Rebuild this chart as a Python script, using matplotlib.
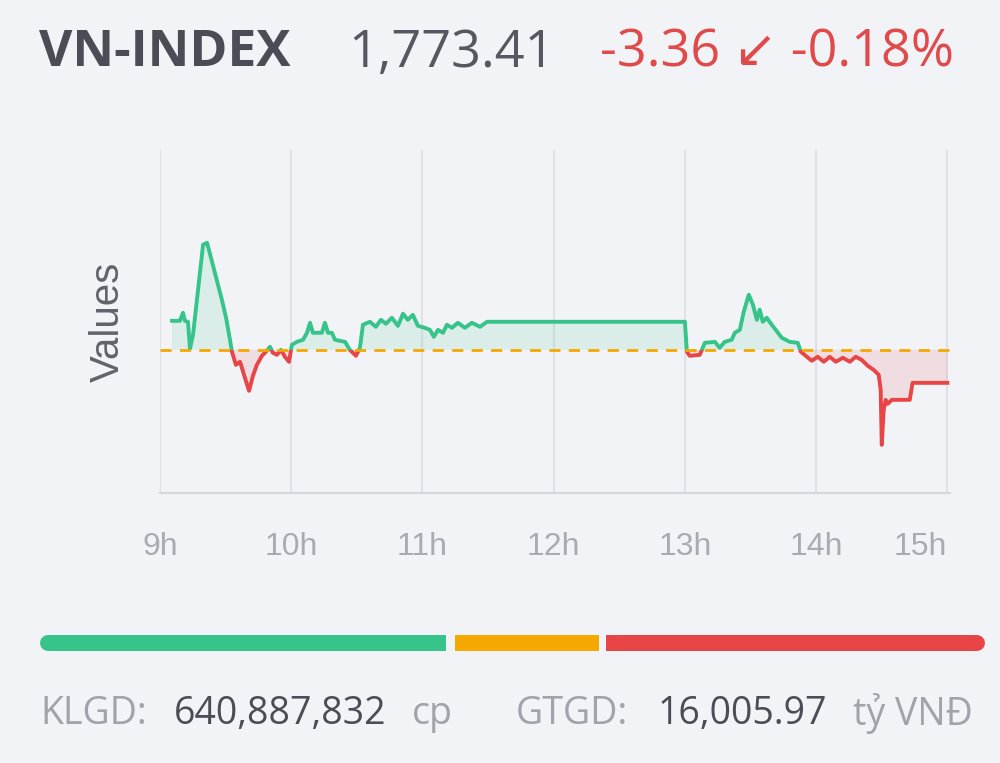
import matplotlib.pyplot as plt
from matplotlib.patches import Rectangle
import numpy as np

# intraday VN-INDEX, minutes after 9:00 and index level
minutes = [5.5, 9.1, 10.5, 11.4, 12.8, 13.7, 15.1, 17.4, 19.7, 21.5, 23.8, 26.5, 28.3, 30.2,
           32.0, 32.9, 34.7, 36.6, 38.4, 40.7, 42.5, 44.3, 46.6, 48.4, 50.3, 51.6, 53.5, 55.3,
           57.1, 59.0, 60.3, 62.6, 65.4, 67.2, 68.6, 69.9, 74.0, 75.4, 76.8, 78.6, 80.0, 84.6,
           86.8, 89.6, 91.4, 92.8, 96.0, 98.7, 101.0, 103.3, 106.0, 108.8, 111.1, 113.3, 115.6,
           117.9, 121.1, 123.4, 125.2, 127.1, 129.4, 131.2, 133.5, 136.2, 139.4, 142.6, 146.3,
           149.5, 240.0, 240.9, 242.2, 246.8, 249.1, 253.7, 255.9, 258.2, 261.4, 262.8, 265.1,
           266.9, 269.2, 271.1, 272.9, 274.2, 275.6, 277.4, 279.7, 281.5, 284.3, 287.9, 291.6,
           293.0, 295.2, 298.0, 300.7, 303.5, 306.2, 309.0, 312.2, 315.4, 318.1, 320.8, 323.6,
           326.3, 328.6, 329.5, 330.0, 330.9, 331.8, 332.7, 334.6, 342.8, 344.1, 360.0]
index = [1779.72, 1779.72, 1780.54, 1779.72, 1779.62, 1776.87, 1778.30, 1782.88, 1787.46,
         1787.66, 1785.73, 1783.39, 1781.86, 1780.03, 1777.79, 1776.57, 1775.24, 1775.55,
         1774.23, 1772.60, 1774.12, 1775.24, 1776.16, 1776.57, 1777.08, 1776.46, 1776.26,
         1776.77, 1776.06, 1775.55, 1777.28, 1777.58, 1777.79, 1778.50, 1779.52, 1778.50,
         1778.50, 1779.52, 1778.50, 1778.50, 1777.79, 1777.58, 1776.77, 1776.16, 1776.97,
         1779.32, 1779.62, 1779.11, 1779.82, 1779.42, 1780.03, 1779.21, 1780.44, 1779.82,
         1780.33, 1779.21, 1779.01, 1778.80, 1778.09, 1778.80, 1778.50, 1779.32, 1779.01,
         1779.52, 1779.01, 1779.52, 1779.11, 1779.62, 1779.62, 1776.57, 1776.16, 1776.26,
         1777.48, 1777.58, 1776.97, 1777.58, 1777.79, 1778.50, 1778.80, 1780.64, 1782.37,
         1781.35, 1779.82, 1780.85, 1779.62, 1780.03, 1779.32, 1778.80, 1777.99, 1777.58,
         1777.48, 1776.57, 1776.16, 1775.65, 1776.06, 1775.55, 1776.06, 1775.55, 1775.96,
         1775.55, 1776.06, 1775.75, 1775.14, 1774.73, 1774.23, 1772.70, 1767.10, 1770.66,
         1771.68, 1771.27, 1771.68, 1771.68, 1773.41, 1773.41]
ref_close = 1776.77
hours = [9, 10, 11, 12, 13, 14, 15]
hour_labels = ["9h", "10h", "11h", "12h", "13h", "14h", "15h"]

last = "1,773.41"
change = "-3.36 \u2199 -0.18%"
breadth = [43.6, 15.9, 40.5]
volume = "640,887,832"
value = "16,005.97"

BG = "#f2f3f7"
GREEN = "#36c48a"
RED = "#e84646"
ORANGE = "#f5a800"

plt.rcParams['font.family'] = ['Open Sans', 'DejaVu Sans']

fig = plt.figure(figsize=(10, 7.63), dpi=100, facecolor=BG)

def fx(px):
    return px / 1000

def fy(py):
    return 1 - py / 763

# header
fig.text(fx(39), fy(53), "VN-INDEX", fontsize=37, fontweight='bold', color="#4a4d55", va='center')
fig.text(fx(348), fy(53), last, fontsize=37.5, color="#555860", va='center')
fig.text(fx(600), fy(53), change, fontsize=37.5, color="#e04a4a", va='center')

# chart
ax = fig.add_axes([fx(160), fy(493), fx(950) - fx(160), (493 - 150) / 763])
ax.set_facecolor(BG)
t = 9 + np.array(minutes) / 60
v = np.array(index)
ax.set_xlim(9, 15.02)
ax.set_ylim(1762.2, 1797.1)

ax.fill_between(t, v, ref_close, where=v >= ref_close, interpolate=True, color=GREEN, alpha=0.12, lw=0)
ax.fill_between(t, v, ref_close, where=v <= ref_close, interpolate=True, color=RED, alpha=0.12, lw=0)
up, = ax.plot(t, v, color=GREEN, lw=2.8, zorder=3)
dn, = ax.plot(t, v, color=RED, lw=2.8, zorder=3)
up.set_clip_path(Rectangle((8, ref_close), 10, 100, transform=ax.transData))
dn.set_clip_path(Rectangle((8, ref_close - 100), 10, 100, transform=ax.transData))
ax.axhline(ref_close, color=ORANGE, lw=2, ls=(0, (4, 3)), zorder=4)

for h in hours:
    ax.axvline(h, color="#dfe1e7", lw=1.5, zorder=0)
for s in ['top', 'right', 'left']:
    ax.spines[s].set_visible(False)
ax.spines['bottom'].set_color("#d5d7dd")
ax.spines['bottom'].set_linewidth(1.5)
ax.set_yticks([])
ax.set_xticks(hours)
ax.set_xticklabels(hour_labels, family=['Liberation Sans', 'DejaVu Sans'])
ax.tick_params(axis='x', length=0, pad=28, labelsize=23, labelcolor="#a8abb2")
ax.get_xticklabels()[-1].set_horizontalalignment('right')
ax.set_ylabel("Values", fontsize=29, color="#606369", labelpad=24,
              family=['Liberation Sans', 'DejaVu Sans'])

# breadth bar
bx = fig.add_axes([fx(40), fy(652), fx(985) - fx(40), 18 / 763])
bx.set_xlim(0, sum(breadth))
bx.set_ylim(0, 1)
bx.axis('off')
cols = [GREEN, ORANGE, RED]
gap = 0.35
r = 0.85
start = 0
for i, (w, c) in enumerate(zip(breadth, cols)):
    a = start + (gap if i > 0 else 0)
    b = start + w - (gap if i < len(breadth) - 1 else 0)
    if i == 0:
        bx.plot([a + r, b - 2], [0.5, 0.5], color=c, lw=11.5, solid_capstyle='round')
        bx.plot([a + r + 1, b - 0.3], [0.5, 0.5], color=c, lw=11.5, solid_capstyle='butt')
    elif i == len(breadth) - 1:
        bx.plot([a + 2, b - r], [0.5, 0.5], color=c, lw=11.5, solid_capstyle='round')
        bx.plot([a, b - r - 1], [0.5, 0.5], color=c, lw=11.5, solid_capstyle='butt')
    else:
        bx.plot([a, b], [0.5, 0.5], color=c, lw=11.5, solid_capstyle='butt')
    start += w
for ln in bx.lines:
    ln.set_clip_on(False)

# footer
fy0 = fy(714)
fs = 27
fig.text(fx(40), fy0, "KLGD:", fontsize=fs, color="#a0a3aa", va='center')
fig.text(fx(174), fy0, volume, fontsize=fs, color="#4a4d55", va='center')
fig.text(fx(412), fy0, "cp", fontsize=fs, color="#a0a3aa", va='center')
fig.text(fx(516), fy0, "GTGD:", fontsize=fs, color="#a0a3aa", va='center')
fig.text(fx(658), fy0, value, fontsize=fs, color="#4a4d55", va='center')
fig.text(fx(853), fy0, "t\u1ef7 VN\u0110", fontsize=fs, color="#a0a3aa", va='center')

fig.savefig("out.png", dpi=100, facecolor=BG)
